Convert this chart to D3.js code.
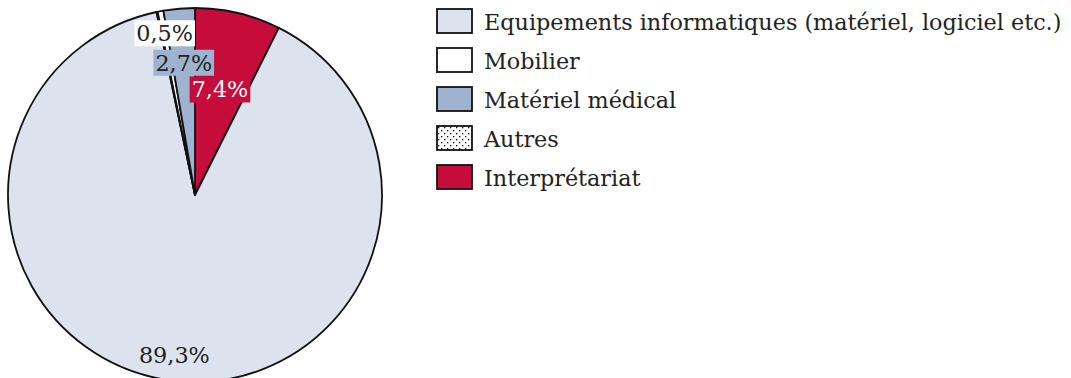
<!DOCTYPE html>
<html>
<head>
<meta charset="utf-8">
<script src="https://cdn.jsdelivr.net/npm/d3@7"></script>
<style>
  body { margin: 0; background: #fff; }
  svg { display: block; }
</style>
</head>
<body>
<div id="chart"></div>
<script>
// data, in pie order (clockwise from 12 o'clock)
var categories = ['Interprétariat', 'Equipements informatiques (matériel, logiciel etc.)', 'Autres', 'Mobilier', 'Matériel médical'];
var values = [7.4, 89.3, 0.1, 0.5, 2.7];
var valueLabels = ['7,4%', '89,3%', '', '0,5%', '2,7%'];
var legendOrder = ['Equipements informatiques (matériel, logiciel etc.)', 'Mobilier', 'Matériel médical', 'Autres', 'Interprétariat'];

var fills = {
  'Equipements informatiques (matériel, logiciel etc.)': '#dce3ee',
  'Mobilier': '#ffffff',
  'Matériel médical': '#9fb2cf',
  'Autres': 'url(#dots)',
  'Interprétariat': '#c60c3b'
};
// label placement: radial fraction, text colour, background
var labelStyle = {
  'Interprétariat': {r: 0.58, color: '#fff', bg: '#c60c3b'},
  'Equipements informatiques (matériel, logiciel etc.)': {r: 0.86, color: '#222', bg: null},
  'Mobilier': {r: 0.88, color: '#222', bg: '#fff'},
  'Matériel médical': {r: 0.71, color: '#222', bg: '#9fb2cf'}
};

var width = 1071, height = 378;
var cx = 195, cy = 195, radius = 187;
var font = '"DejaVu Serif", serif';

var svg = d3.select('#chart').append('svg')
  .attr('width', width)
  .attr('height', height);

var defs = svg.append('defs');
var pat = defs.append('pattern')
  .attr('id', 'dots')
  .attr('patternUnits', 'userSpaceOnUse')
  .attr('width', 6).attr('height', 6);
pat.append('rect').attr('width', 6).attr('height', 6).attr('fill', '#fff');
pat.append('rect').attr('x', 1).attr('y', 1).attr('width', 1.3).attr('height', 1.3).attr('fill', '#000');
pat.append('rect').attr('x', 4).attr('y', 4).attr('width', 1.3).attr('height', 1.3).attr('fill', '#000');

var data = categories.map(function(c, i) {
  return {name: c, value: values[i], label: valueLabels[i]};
});

var pie = d3.pie().sort(null).value(function(d) { return d.value; });
var arc = d3.arc().innerRadius(0).outerRadius(radius);

var g = svg.append('g').attr('transform', 'translate(' + cx + ',' + cy + ')');
var arcs = pie(data);

g.selectAll('path.slice')
  .data(arcs)
  .enter().append('path')
  .attr('class', 'slice')
  .attr('d', arc)
  .attr('fill', function(d) { return fills[d.data.name]; })
  .attr('stroke', '#111')
  .attr('stroke-width', 1.8)
  .attr('stroke-linejoin', 'round');

// value labels
var lab = g.selectAll('g.lab')
  .data(arcs.filter(function(d) { return d.data.label; }))
  .enter().append('g')
  .attr('class', 'lab')
  .attr('transform', function(d) {
    var a = (d.startAngle + d.endAngle) / 2;
    var r = labelStyle[d.data.name].r * radius;
    return 'translate(' + (Math.sin(a) * r) + ',' + (-Math.cos(a) * r) + ')';
  });

lab.append('text')
  .attr('text-anchor', 'middle')
  .attr('dy', '0.36em')
  .style('font-family', font)
  .style('font-size', '22.3px')
  .style('fill', function(d) { return labelStyle[d.data.name].color; })
  .text(function(d) { return d.data.label; });

lab.each(function(d) {
  var st = labelStyle[d.data.name];
  if (!st.bg) return;
  var t = d3.select(this).select('text');
  var bb = t.node().getBBox();
  d3.select(this).insert('rect', 'text')
    .attr('x', bb.x - 2).attr('y', bb.y)
    .attr('width', bb.width + 4).attr('height', bb.height)
    .attr('fill', st.bg);
});

// legend
var leg = svg.append('g').attr('transform', 'translate(437,9)');
var rowH = 39;
var item = leg.selectAll('g.item')
  .data(legendOrder)
  .enter().append('g')
  .attr('class', 'item')
  .attr('transform', function(d, i) { return 'translate(0,' + (i * rowH) + ')'; });

item.append('rect')
  .attr('width', 35).attr('height', 24)
  .attr('fill', function(d) { return fills[d]; })
  .attr('stroke', '#111')
  .attr('stroke-width', 1.8);

item.append('text')
  .attr('x', 47).attr('y', 21)
  .style('font-family', font)
  .style('font-size', '22.3px')
  .style('fill', '#222')
  .text(function(d) { return d; });
</script>
</body>
</html>
